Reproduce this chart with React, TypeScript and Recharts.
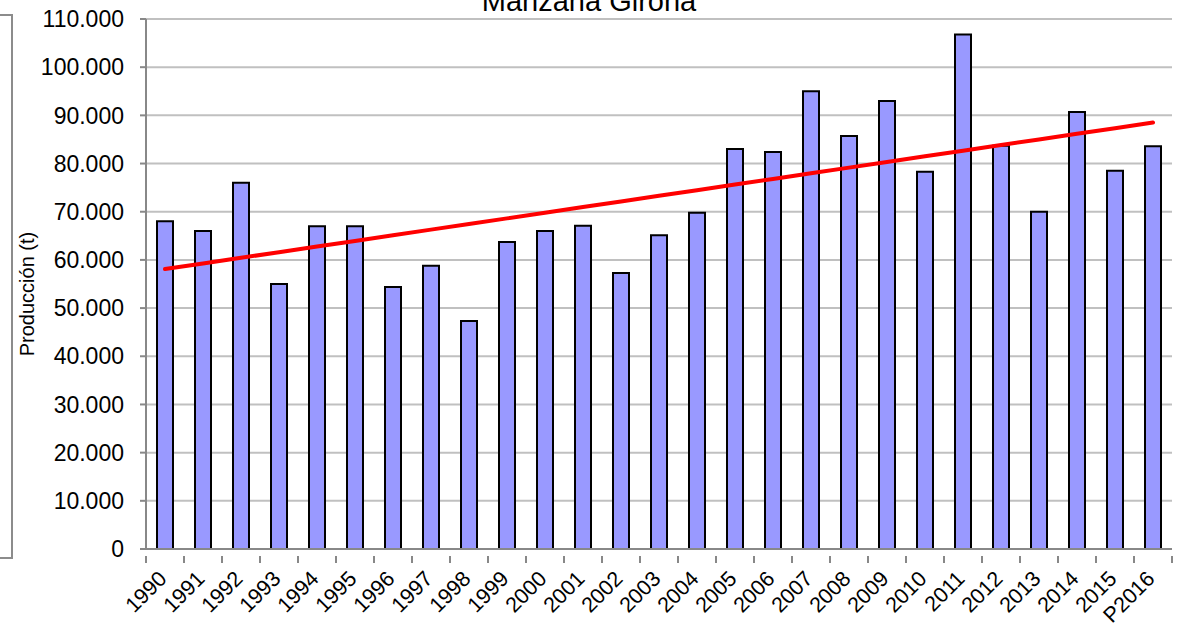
import React from 'react';
import { ComposedChart, Bar, Line, XAxis, YAxis, CartesianGrid } from 'recharts';

const years = [
  '1990', '1991', '1992', '1993', '1994', '1995', '1996', '1997', '1998', '1999',
  '2000', '2001', '2002', '2003', '2004', '2005', '2006', '2007', '2008', '2009',
  '2010', '2011', '2012', '2013', '2014', '2015', 'P2016',
];

// production in tonnes
const production = [
  68000, 66000, 76000, 55000, 67000, 67000, 54400, 58800, 47300, 63700,
  66000, 67100, 57300, 65100, 69800, 83000, 82400, 95000, 85700, 93000,
  78300, 106800, 83700, 70000, 90700, 78500, 83600,
];

const yTicks = [0, 10000, 20000, 30000, 40000, 50000, 60000, 70000, 80000, 90000, 100000, 110000];

// linear trendline (least squares), as Excel draws it
const n = production.length;
const meanX = (n - 1) / 2;
const meanY = production.reduce((a, b) => a + b, 0) / n;
let sxy = 0;
let sxx = 0;
production.forEach((v, i) => {
  sxy += (i - meanX) * (v - meanY);
  sxx += (i - meanX) * (i - meanX);
});
const slope = sxy / sxx;
const intercept = meanY - slope * meanX;

const data = years.map((year, i) => ({
  year,
  value: production[i],
  trend: intercept + slope * i,
}));

const FONT = '"Liberation Sans", Arial, sans-serif';
const W = 1180;
const H = 627;
const PLOT_LEFT = 146;
const PLOT_RIGHT = 1172;
const BAND = (PLOT_RIGHT - PLOT_LEFT) / years.length;

const fmt = (v: number) => String(v).replace(/\B(?=(\d{3})+(?!\d))/g, '.');

function YearTick(props: any) {
  const { x, y, payload, index } = props;
  const last = index === years.length - 1;
  return (
    <g>
      <line x1={x - BAND / 2} y1={y - 1} x2={x - BAND / 2} y2={y + 6} stroke="#888" strokeWidth={2} />
      {last && <line x1={x + BAND / 2} y1={y - 1} x2={x + BAND / 2} y2={y + 6} stroke="#888" strokeWidth={2} />}
      <text
        x={x + 3}
        y={y + 23}
        textAnchor="end"
        transform={`rotate(-45 ${x + 3} ${y + 23})`}
        fontSize={21.5}
        fontFamily={FONT}
        fill="#000"
      >
        {payload.value}
      </text>
    </g>
  );
}

export default function App() {
  return (
    <div style={{ position: 'absolute', left: 0, top: 0, width: W, height: H, background: '#fff' }}>
      {/* frame remains on the left edge */}
      <div
        style={{
          position: 'absolute',
          left: -10,
          top: 14,
          width: 21,
          height: 541,
          borderTop: '2px solid #8c8c8c',
          borderRight: '2px solid #8c8c8c',
          borderBottom: '2px solid #8c8c8c',
        }}
      />
      <ComposedChart
        width={W}
        height={H}
        data={data}
        margin={{ top: 19, right: W - PLOT_RIGHT, bottom: 0, left: 0 }}
      >
        <text x={589} y={11} textAnchor="middle" fontSize={29} fontFamily={FONT} fill="#000">
          Manzana Girona
        </text>
        <text
          x={34}
          y={294}
          textAnchor="middle"
          transform="rotate(-90 34 294)"
          fontSize={20}
          fontFamily={FONT}
          fill="#000"
        >
          Producción (t)
        </text>
        <CartesianGrid vertical={false} stroke="#c0c0c0" strokeWidth={2} />
        <XAxis
          dataKey="year"
          height={78}
          interval={0}
          tickLine={false}
          axisLine={{ stroke: '#888', strokeWidth: 2 }}
          tick={<YearTick />}
        />
        <YAxis
          width={PLOT_LEFT}
          domain={[0, 110000]}
          ticks={yTicks}
          interval={0}
          tickFormatter={fmt}
          tickSize={6}
          tickMargin={16}
          axisLine={{ stroke: '#888', strokeWidth: 2 }}
          tickLine={{ stroke: '#888', strokeWidth: 2 }}
          tick={{ fontSize: 23, fontFamily: FONT, fill: '#000' }}
        />
        <Bar
          dataKey="value"
          barSize={16}
          fill="#9999ff"
          stroke="#000"
          strokeWidth={2}
          isAnimationActive={false}
        />
        <Line
          dataKey="trend"
          type="linear"
          stroke="#ff0000"
          strokeWidth={4}
          dot={false}
          strokeLinecap="round"
          isAnimationActive={false}
        />
      </ComposedChart>
    </div>
  );
}
